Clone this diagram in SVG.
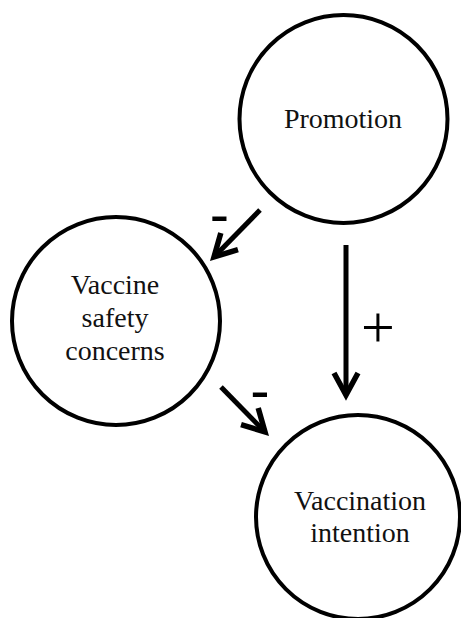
<svg xmlns="http://www.w3.org/2000/svg" width="461" height="618" viewBox="0 0 461 618">
<style>
.node{fill:#fff;stroke:#000;stroke-width:4}
.lbl{font-family:"Liberation Serif","Times New Roman",serif;font-size:28px;fill:#111;text-anchor:middle}
.edge{stroke:#000;stroke-width:5;fill:none}
.sign{font-family:"Liberation Sans",Arial,sans-serif;fill:#000;text-anchor:middle}
</style>
<defs>
<marker id="ah" markerUnits="userSpaceOnUse" viewBox="-30 -20 40 40" refX="0" refY="0" markerWidth="40" markerHeight="40" orient="auto">
<path d="M -22,-12 L 0,0 L -22,12" fill="none" stroke="#000" stroke-width="5.5" stroke-linejoin="miter"/>
</marker>
</defs>
<rect width="461" height="618" fill="#fff"/>
<g id="connectors">
<line class="edge" x1="260" y1="210" x2="214" y2="257" marker-end="url(#ah)"/>
<line class="edge" x1="346" y1="245" x2="346" y2="395" marker-end="url(#ah)"/>
<line class="edge" x1="221" y1="387" x2="265" y2="432" marker-end="url(#ah)"/>
<text class="sign" x="219.5" y="234" font-size="58">-</text>
<text class="sign" x="260" y="410" font-size="58">-</text>
<text class="sign" x="378" y="347" font-size="60" style="font-family:'Liberation Serif',serif">+</text>
</g>
<g id="promotion">
<circle class="node" cx="343.5" cy="119" r="104"/>
<text class="lbl" x="343" y="128">Promotion</text>
</g>
<g id="safety">
<circle class="node" cx="116" cy="321" r="104"/>
<text class="lbl" x="115" y="294">Vaccine</text>
<text class="lbl" x="115" y="327">safety</text>
<text class="lbl" x="115" y="360">concerns</text>
</g>
<g id="intention">
<circle class="node" cx="358" cy="517" r="102"/>
<text class="lbl" x="360" y="510">Vaccination</text>
<text class="lbl" x="360" y="542">intention</text>
</g>
</svg>
